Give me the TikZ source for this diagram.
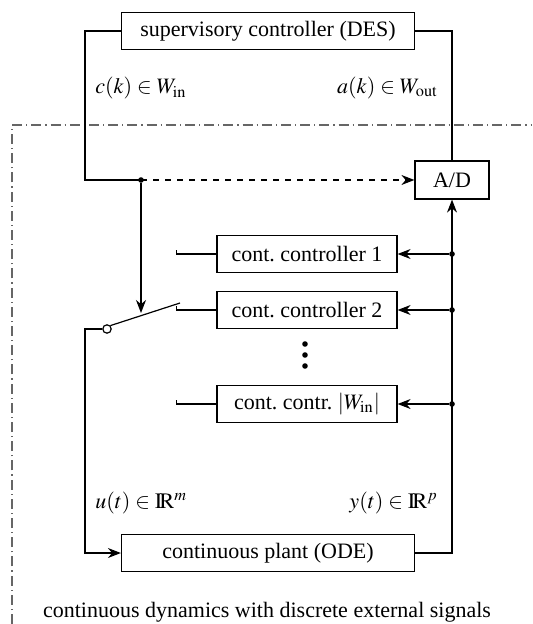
\documentclass[tikz,border=0pt]{standalone}
\usepackage{mathptmx}
\usepackage{fontspec}
\setmainfont{Liberation Serif}
\usetikzlibrary{arrows.meta}

\begin{document}
\begin{tikzpicture}[x=0.5pt, y=-0.5pt, semithick,
    font=\fontsize{11}{13}\selectfont,
    block/.style={draw, minimum height=18.5pt, inner sep=2pt},
    wide/.style={block, minimum width=146.5pt},
    ctrl/.style={block, minimum width=90pt},
    arr/.style={-{Stealth[length=6.5pt, width=5pt]}},
    dot/.style={circle, fill, inner sep=0pt, minimum size=2.8pt},
    frame/.style={black!60, dash pattern=on 5pt off 2pt on 0.6pt off 2pt}]

  \useasboundingbox (0, 0) rectangle (532, 624);

  % Discrete part
  \node[wide] (sup) at (268, 31) {supervisory controller (DES)};
  \node[block, minimum width=37pt, minimum height=19pt] (ad) at (452, 180) {A/D};

  % Boundary of the continuous part
  \draw[frame] (12, 624) -- (12, 125) -- (532, 125);

  % Controllers
  \node[ctrl] (c1) at (307, 254) {cont.\ controller 1};
  \node[ctrl] (c2) at (307, 310) {cont.\ controller 2};
  \node[ctrl] (c3) at (307, 404) {cont.\ contr.\ $|W_{\mathrm{in}}|$};
  \foreach \y [count=\i] in {344, 355, 366}
    \node[dot] (v\i) at (305, \y) {};

  % Plant
  \node[wide] (plant) at (268, 553) {continuous plant (ODE)};

  % Discrete signals
  \coordinate (j) at (141, 180);
  \draw (sup.west) -- (85, 31) -- (85, 180) -- (j);
  \draw[arr, dashed] (j) -- (ad.west);
  \draw (sup.east) -- (452, 31) -- (ad.north);
  \node[dot] (jd) at (j) {};
  \node[anchor=west] (cin) at (88, 88) {$c(k) \in W_{\mathrm{in}}$};
  \node[anchor=east] (aout) at (445, 88) {$a(k) \in W_{\mathrm{out}}$};

  % Switch
  \node[circle, draw, fill=white, inner sep=0pt, minimum size=4.2pt] (sw) at (107, 329) {};
  \coordinate (blade) at (180, 303);
  \draw (sw.north east) -- (blade);
  \draw[arr] (jd) -- (141, 313);
  \foreach \c in {c1, c2, c3}
    \draw (\c.west) -- ([xshift=-20pt]\c.west) -- ++(0, -4);

  % Measurement bus
  \coordinate (yout) at (452, 553);
  \draw[arr] (plant.east) -- (yout) -- (ad.south);
  \foreach \c in {c1, c2, c3} {
    \node[dot] (b\c) at (yout |- \c.east) {};
    \draw[arr] (b\c) -- (\c.east);
  }

  % Plant input
  \draw[arr] (sw.west) -- (85, 329) -- (85, 553) -- (plant.west);
  \node[anchor=west] (uin) at (88, 503) {$u(t) \in \mathrm{I\!R}^m$};
  \node[anchor=east] (yo) at (445, 503) {$y(t) \in \mathrm{I\!R}^p$};

  \node (cap) at (267, 612) {continuous dynamics with discrete external signals};

\end{tikzpicture}
\end{document}
